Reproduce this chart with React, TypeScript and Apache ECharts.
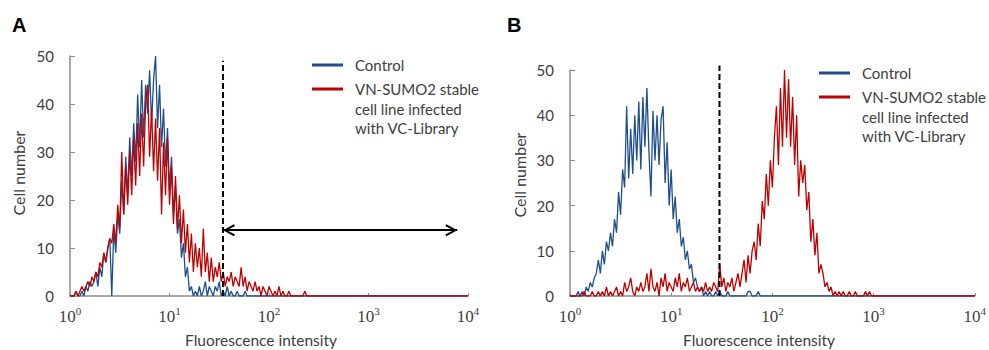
import React, { useEffect, useRef } from "react";
import * as echarts from "echarts";

// ---- data (cell counts per channel bin, bins are STEP decades wide) ----
const STEP = 0.02;
const RANGE = [1, 10000];

const A_CONTROL_START = 0.04;
const A_CONTROL = [
  0, 1, 0, 0, 1, 0, 2, 1, 3, 2,
  3, 5, 2, 6, 4, 9, 7, 10, 12, 0,
  14, 9, 17, 13, 24, 17, 29, 21, 33, 25,
  36, 28, 42, 31, 45, 33, 44, 38, 47, 36,
  45, 50, 35, 44, 31, 39, 27, 35, 22, 29,
  17, 23, 13, 16, 8, 11, 4, 6, 1, 2,
  0, 1, 0, 2, 0, 1, 3, 0, 2, 1,
  0, 2, 1, 3, 0, 1, 0, 2, 0, 1,
  0, 0, 1, 0, 0, 0, 1, 0, 0,
];

const A_VC_START = 0.04;
const A_VC = [
  0, 1, 0, 1, 2, 1, 2, 3, 2, 4,
  3, 5, 4, 7, 6, 9, 7, 10, 12, 11,
  15, 11, 19, 14, 30, 17, 27, 19, 30, 21,
  33, 23, 36, 25, 38, 27, 40, 44, 29, 39,
  26, 37, 24, 35, 17, 32, 21, 33, 19, 27,
  15, 25, 14, 21, 11, 18, 9, 15, 7, 13,
  5, 11, 6, 10, 4, 14, 5, 9, 3, 8,
  3, 6, 4, 7, 3, 5, 2, 4, 3, 5,
  2, 4, 3, 2, 6, 2, 4, 1, 3, 2,
  1, 3, 1, 2, 0, 2, 1, 0, 2, 1,
  0, 1, 0, 2, 0, 1, 0, 0, 1, 0,
  0, 0, 0, 0, 0, 0, 1, 0, 0,
];

const B_CONTROL_START = 0.06;
const B_CONTROL = [
  0, 1, 0, 1, 0, 2, 1, 3, 2, 4,
  5, 8, 5, 10, 7, 12, 10, 14, 11, 17,
  14, 23, 18, 28, 24, 42, 26, 37, 27, 40,
  30, 43, 28, 44, 33, 46, 32, 22, 41, 30,
  40, 29, 39, 42, 25, 34, 20, 28, 17, 22,
  14, 17, 11, 13, 8, 10, 6, 7, 3, 4,
  2, 1, 2, 0, 1, 0, 1, 0, 0, 1,
  0, 1, 0, 0, 0, 1, 0, 0, 0, 0,
  0, 0, 0, 0, 0, 1, 1, 0, 0, 0,
  1, 0,
];

const B_VC_START = 0.1;
const B_VC = [
  0, 0, 1, 0, 0, 0, 1, 0, 0, 1,
  0, 1, 0, 2, 0, 1, 0, 1, 2, 0,
  1, 0, 3, 1, 2, 4, 1, 0, 2, 1,
  3, 1, 2, 5, 1, 6, 2, 1, 3, 0,
  4, 2, 5, 1, 3, 2, 1, 4, 2, 5,
  1, 3, 2, 4, 1, 2, 3, 1, 2, 1,
  2, 1, 3, 1, 2, 1, 3, 2, 1, 7,
  2, 4, 1, 3, 2, 4, 1, 3, 5, 2,
  5, 8, 3, 9, 5, 10, 12, 8, 16, 11,
  21, 17, 27, 20, 30, 24, 35, 42, 29, 46,
  33, 50, 35, 48, 33, 44, 29, 40, 22, 30,
  25, 29, 19, 23, 12, 17, 9, 14, 5, 7,
  5, 2, 3, 1, 2, 0, 1, 0, 1, 0,
  1, 0, 0, 1, 0, 0, 1, 0, 0, 0,
  0, 1, 0, 1, 0, 0,
];

// gate (dashed) positions and arrow
const GATE_A = 34.5;
const GATE_A_TOP = 49;
const GATE_B = 30;
const GATE_B_TOP = 51;
const ARROW_Y = 13.7;
const ARROW_END = 7800;

const Y_MIN = 0;
const Y_MAX = 50;
const Y_INTERVAL = 10;

const SERIES_NAMES = ["Control", "VN-SUMO2 stable\ncell line infected\nwith VC-Library"];

const BLUE = "#1F4E8C";
const RED = "#C00000";
const AXIS_GRAY = "#8C8C8C";
const TEXT = "#404040";
const SANS = "Lato, 'Open Sans', sans-serif";
const SERIF = "'Liberation Serif', 'DejaVu Serif', serif";

function bins(start: number, counts: number[]) {
  const pts: number[][] = [[RANGE[0], 0]];
  counts.forEach((c, i) => pts.push([Math.pow(10, start + i * STEP), c]));
  pts.push([RANGE[1], 0]);
  return pts;
}

// open arrow head; a tiny invisible speck above the tip centres the tip in the symbol box
const CHEVRON = "path://M0,9 L5,0 L10,9 L8.6,10 L5,3.2 L1.4,10 Z M5,-10 L5.01,-10 L5,-9.99 Z";

function xAxis(gridIndex: number) {
  return {
    type: "log",
    logBase: 10,
    gridIndex,
    min: RANGE[0],
    max: RANGE[1],
    axisLine: { show: true, lineStyle: { color: AXIS_GRAY, width: 1.5 } },
    axisTick: { show: true, inside: true, length: 3, lineStyle: { color: AXIS_GRAY } },
    minorTick: { show: false },
    splitLine: { show: false },
    axisLabel: {
      margin: 9,
      formatter: (v: number) => `{b|10}{s|${Math.round(Math.log10(v))}}`,
      rich: {
        b: { fontFamily: SERIF, fontSize: 17, color: TEXT, lineHeight: 20, verticalAlign: "bottom" },
        s: { fontFamily: SERIF, fontSize: 11, color: TEXT, lineHeight: 8, verticalAlign: "top" },
      },
    },
  };
}

function yAxis(gridIndex: number) {
  return {
    type: "value",
    gridIndex,
    min: Y_MIN,
    max: Y_MAX,
    interval: Y_INTERVAL,
    axisLine: { show: true, lineStyle: { color: AXIS_GRAY, width: 1.5 } },
    axisTick: { show: true, inside: true, length: 5, lineStyle: { color: AXIS_GRAY } },
    splitLine: { show: false },
    axisLabel: { fontFamily: SANS, fontSize: 15, color: TEXT, margin: 16 },
  };
}

function histSeries(name: string, idx: number, data: number[][], color: string) {
  return {
    name,
    type: "line",
    xAxisIndex: idx,
    yAxisIndex: idx,
    data,
    symbol: "none",
    showSymbol: false,
    lineStyle: { color, width: 1.3 },
    itemStyle: { color },
    silent: true,
  };
}

function gateSeries(idx: number, gate: number, top: number, arrow: boolean) {
  const s: any = {
    type: "line",
    xAxisIndex: idx,
    yAxisIndex: idx,
    data: [
      [gate, 0],
      [gate, top],
    ],
    symbol: "none",
    clip: false,
    silent: true,
    z: 5,
    lineStyle: { color: "#000", width: 2, type: [6, 3] },
  };
  if (arrow) {
    s.markLine = {
      silent: true,
      symbol: [CHEVRON, CHEVRON],
      symbolSize: [12, 24],
      label: { show: false },
      lineStyle: { color: "#000", width: 2, type: "solid" },
      data: [[{ coord: [gate, ARROW_Y] }, { coord: [ARROW_END, ARROW_Y] }]],
    };
  }
  return s;
}

function legendGraphics(x: number, y1: number, y2: number) {
  const textX = x + 43;
  const lines = SERIES_NAMES[1].split("\n");
  const els: any[] = [
    { type: "line", shape: { x1: x, y1, x2: x + 31, y2: y1 }, style: { stroke: BLUE, lineWidth: 3 } },
    { type: "line", shape: { x1: x, y1: y2, x2: x + 31, y2 }, style: { stroke: RED, lineWidth: 3 } },
    {
      type: "text",
      x: textX,
      y: y1,
      style: { text: SERIES_NAMES[0], fontFamily: SANS, fontSize: 15, fill: TEXT, align: "left", verticalAlign: "middle" },
    },
  ];
  lines.forEach((t, i) => {
    els.push({
      type: "text",
      x: textX,
      y: y2 + i * 19.5,
      style: { text: t, fontFamily: SANS, fontSize: 15, fill: TEXT, align: "left", verticalAlign: "middle" },
    });
  });
  return els;
}

export default function App() {
  const ref = useRef<HTMLDivElement>(null);
  useEffect(() => {
    if (!ref.current) return;
    const chart = echarts.init(ref.current, undefined, { renderer: "svg" });
    const option: any = {
      animation: false,
      backgroundColor: "#fff",
      grid: [
        { left: 70, top: 56, width: 398, height: 240 },
        { left: 570, top: 70, width: 408, height: 226 },
      ],
      xAxis: [xAxis(0), xAxis(1)],
      yAxis: [yAxis(0), yAxis(1)],
      series: [
        histSeries(SERIES_NAMES[0], 0, bins(A_CONTROL_START, A_CONTROL), BLUE),
        histSeries(SERIES_NAMES[1], 0, bins(A_VC_START, A_VC), RED),
        gateSeries(0, GATE_A, GATE_A_TOP, true),
        histSeries(SERIES_NAMES[0], 1, bins(B_CONTROL_START, B_CONTROL), BLUE),
        histSeries(SERIES_NAMES[1], 1, bins(B_VC_START, B_VC), RED),
        gateSeries(1, GATE_B, GATE_B_TOP, false),
      ],
      graphic: [
        { type: "text", x: 12, y: 25, style: { text: "A", fontFamily: "'Liberation Sans', Arial, sans-serif", fontWeight: "bold", fontSize: 20, fill: "#000", align: "left", verticalAlign: "middle" } },
        { type: "text", x: 507, y: 25, style: { text: "B", fontFamily: "'Liberation Sans', Arial, sans-serif", fontWeight: "bold", fontSize: 20, fill: "#000", align: "left", verticalAlign: "middle" } },
        { type: "text", x: 18, y: 173, rotation: Math.PI / 2, style: { text: "Cell number", fontFamily: SANS, fontSize: 16, fill: TEXT, align: "center", verticalAlign: "middle" } },
        { type: "text", x: 519, y: 175, rotation: Math.PI / 2, style: { text: "Cell number", fontFamily: SANS, fontSize: 16, fill: TEXT, align: "center", verticalAlign: "middle" } },
        { type: "text", x: 185, y: 340, style: { text: "Fluorescence intensity", fontFamily: SANS, fontSize: 15.5, fill: TEXT, align: "left", verticalAlign: "middle" } },
        { type: "text", x: 683, y: 340, style: { text: "Fluorescence intensity", fontFamily: SANS, fontSize: 15.5, fill: TEXT, align: "left", verticalAlign: "middle" } },
        ...legendGraphics(312, 65, 89),
        ...legendGraphics(819, 73, 97),
      ],
    };
    chart.setOption(option);
    return () => chart.dispose();
  }, []);
  return <div ref={ref} style={{ position: "absolute", left: 0, top: 0, width: 989, height: 350 }} />;
}
